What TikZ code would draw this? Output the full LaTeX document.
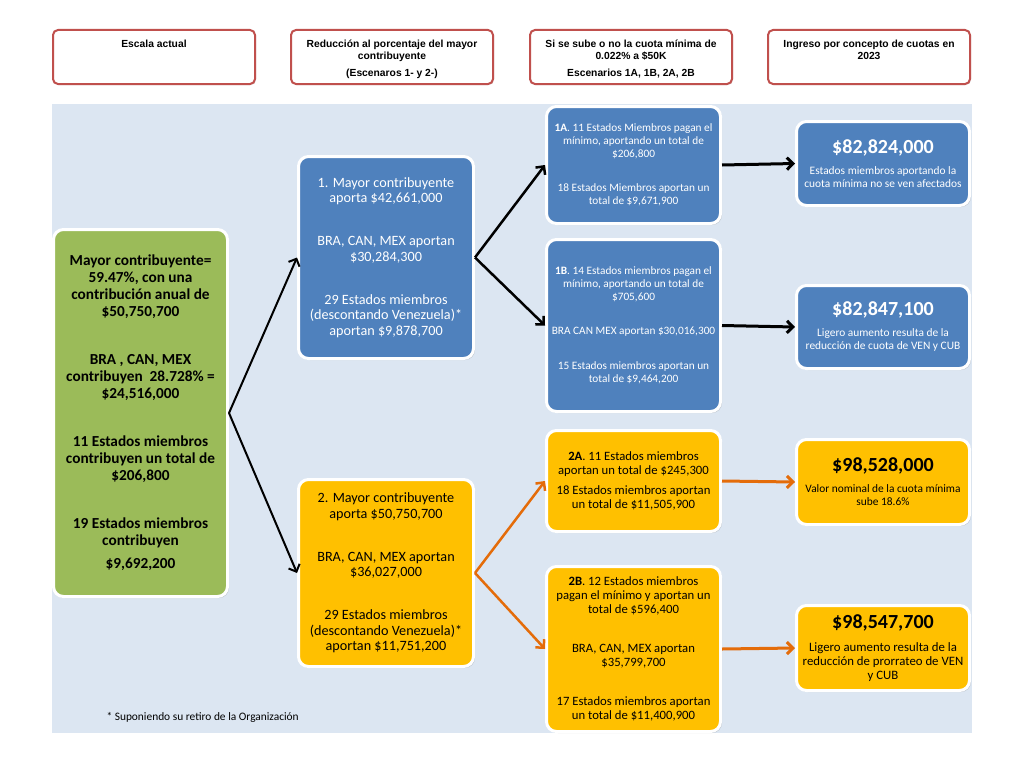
\documentclass[tikz,border=0pt]{standalone}
\usepackage{fontspec}
\setmainfont{Carlito}
\newfontfamily\headfont{Liberation Sans}
\usetikzlibrary{arrows.meta,shadows}

\definecolor{bgblue}{HTML}{DCE6F2}
\definecolor{boxblue}{HTML}{4F81BD}
\definecolor{boxgold}{HTML}{FFC000}
\definecolor{boxgreen}{HTML}{9BBB59}
\definecolor{headred}{HTML}{C0504D}
\definecolor{arroworange}{HTML}{E46C0A}

\newcommand{\headtxt}[1]{\parbox[c][44pt][t]{198pt}{\centering\rule{0pt}{13pt}#1}}

\tikzset{
    headbox/.style={draw=headred, line width=2pt, fill=white, rounded corners=5pt,
        minimum width=202pt, minimum height=54pt, inner sep=0pt,
        font=\headfont\bfseries\fontsize{10.3}{12}\selectfont,
        drop shadow={shadow xshift=1pt, shadow yshift=-1pt, opacity=0.25}},
    card/.style={draw=white, line width=3pt, rounded corners=10pt, align=center, inner sep=1pt,
        drop shadow={shadow xshift=1.5pt, shadow yshift=-1.5pt, opacity=0.3}},
    bluecard/.style={card, fill=boxblue, text=white},
    goldcard/.style={card, fill=boxgold, text=black},
    link/.style={->, line width=2pt}
}

\begin{document}
\begin{tikzpicture}[x=1pt, y=-1pt, >={Straight Barb[length=6pt,width=12pt]}]
    \useasboundingbox (0,0) rectangle (1024,768);
    \fill [white] (0,0) rectangle (1024,768);

    % Column headings
    \node[headbox] (hdEscala) at (154,57) {\headtxt{Escala actual}};
    \node[headbox] (hdReduccion) at (392,57) {\headtxt{Reducción al porcentaje del mayor\\contribuyente\\[5pt](Escenaros 1- y 2-)}};
    \node[headbox] (hdCuota) at (631,57) {\headtxt{Si se sube o no la cuota mínima de\\0.022\% a \$50K\\[5pt]Escenarios 1A, 1B, 2A, 2B}};
    \node[headbox] (hdIngreso) at (869,57) {\headtxt{Ingreso por concepto de cuotas en\\2023}};

    % Background panel
    \fill [bgblue] (52,104) rectangle (972,733);

    % Current scale
    \node[card, fill=boxgreen, minimum width=174pt, minimum height=367pt,
        font=\fontsize{15.3}{17}\selectfont\bfseries] (current) at (140.5,413)
        {Mayor contribuyente=\\59.47\%, con una\\contribución anual de\\\$50,750,700\\[31pt]
         BRA , CAN, MEX\\contribuyen \ 28.728\% =\\\$24,516,000\\[31pt]
         11 Estados miembros\\contribuyen un total de\\\$206,800\\[31pt]
         19 Estados miembros\\contribuyen\\[6pt]\$9,692,200};

    % Scenarios 1 and 2
    \node[bluecard, minimum width=175pt, minimum height=202pt, font=\fontsize{14.2}{15.5}\selectfont] (scen1) at (386,257.5)
        {1. Mayor contribuyente\\aporta \$42,661,000\\[27.5pt]
         BRA, CAN, MEX aportan\\\$30,284,300\\[27.5pt]
         29 Estados miembros\\(descontando Venezuela)*\\aportan \$9,878,700};
    \node[goldcard, minimum width=175pt, minimum height=187pt, font=\fontsize{14.2}{15.5}\selectfont] (scen2) at (386,573)
        {2. Mayor contribuyente\\aporta \$50,750,700\\[27.5pt]
         BRA, CAN, MEX aportan\\\$36,027,000\\[27.5pt]
         29 Estados miembros\\(descontando Venezuela)*\\aportan \$11,751,200};

    % Scenarios 1A, 1B, 2A, 2B
    \node[bluecard, minimum width=174pt, minimum height=117pt, font=\fontsize{11.3}{13}\selectfont] (scen1a) at (633.5,165)
        {\textbf{1A}. 11 Estados Miembros pagan el\\mínimo, aportando un total de\\\$206,800\\[21pt]
         18 Estados Miembros aportan un\\total de \$9,671,900};
    \node[bluecard, minimum width=174pt, minimum height=172pt, font=\fontsize{11.3}{13}\selectfont] (scen1b) at (633.5,325.5)
        {\textbf{1B}. 14 Estados miembros pagan el\\mínimo, aportando un total de\\\$705,600\\[21pt]
         BRA CAN MEX aportan \$30,016,300\\[22pt]
         15 Estados miembros aportan un\\total de \$9,464,200};
    \node[goldcard, minimum width=174pt, minimum height=101pt, font=\fontsize{12.7}{14}\selectfont] (scen2a) at (633.5,481)
        {\textbf{2A}. 11 Estados miembros\\aportan un total de \$245,300\\[6pt]
         18 Estados miembros aportan\\un total de \$11,505,900};
    \node[goldcard, minimum width=174pt, minimum height=165pt, font=\fontsize{12.7}{14}\selectfont] (scen2b) at (633.5,649)
        {\textbf{2B}. 12 Estados miembros\\pagan el mínimo y aportan un\\total de \$596,400\\[25pt]
         BRA, CAN, MEX aportan\\\$35,799,700\\[25pt]
         17 Estados miembros aportan\\un total de \$11,400,900};

    % Income 2023
    \node[bluecard, minimum width=173pt, minimum height=84pt, font=\fontsize{11.4}{13}\selectfont] (total1a) at (883,163.5)
        {{\fontsize{20}{22}\selectfont\bfseries \$82,824,000}\\[8pt]
         Estados miembros aportando la\\cuota mínima no se ven afectados};
    \node[bluecard, minimum width=173pt, minimum height=83pt, font=\fontsize{11.4}{13}\selectfont] (total1b) at (883,327)
        {{\fontsize{20}{22}\selectfont\bfseries \$82,847,100}\\[8pt]
         Ligero aumento resulta de la\\reducción de cuota de VEN y CUB};
    \node[goldcard, minimum width=173pt, minimum height=85pt, font=\fontsize{11.4}{13}\selectfont] (total2a) at (883,482)
        {{\fontsize{20}{22}\selectfont\bfseries \$98,528,000}\\[8pt]
         Valor nominal de la cuota mínima\\sube 18.6\%};
    \node[goldcard, minimum width=173pt, minimum height=85pt, font=\fontsize{12.8}{14}\selectfont] (total2b) at (883,648)
        {{\fontsize{20}{22}\selectfont\bfseries \$98,547,700}\\[9pt]
         Ligero aumento resulta de la\\reducción de prorrateo de VEN\\y CUB};

    % Footnote
    \node[anchor=west, font=\fontsize{11.4}{13}\selectfont] (nota) at (103,717) {* Suponiendo su retiro de la Organización};

    % Branches
    \draw [link] (current.east) -- (scen1.west);
    \draw [link] (current.east) -- (scen2.west);
    \draw [link, line width=2.5pt] (scen1.east) -- (scen1a.west);
    \draw [link, line width=2.5pt] (scen1.east) -- (scen1b.west);
    \draw [link, line width=2.5pt, arroworange] (scen2.east) -- (scen2a.west);
    \draw [link, line width=2.5pt, arroworange] (scen2.east) -- (scen2b.west);

    % To the totals
    \draw [link, line width=3pt] (scen1a.east) -- (total1a.west);
    \draw [link, line width=3pt] (scen1b.east) -- (total1b.west);
    \draw [link, line width=3pt, arroworange] (scen2a.east) -- (total2a.west);
    \draw [link, line width=3pt, arroworange] (scen2b.east) -- (total2b.west);
\end{tikzpicture}
\end{document}
